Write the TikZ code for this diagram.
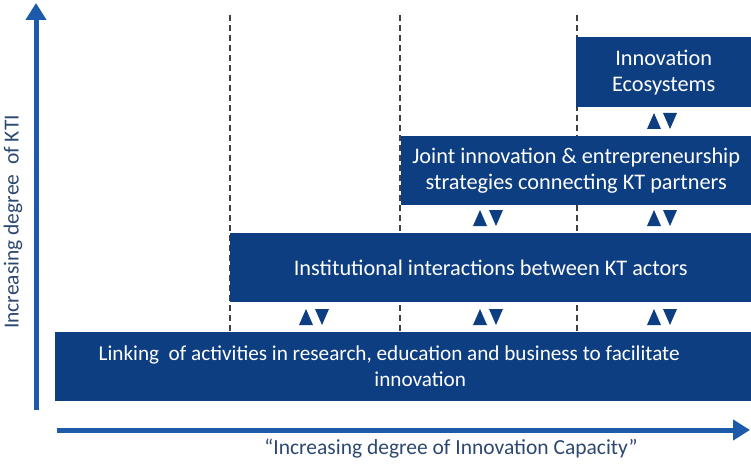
\documentclass[tikz,border=0pt]{standalone}
\usepackage{fontspec}
\setmainfont{Carlito}
\usepackage{xcolor}
\usetikzlibrary{arrows.meta}
\definecolor{ktinavy}{RGB}{14,62,130}
\definecolor{ktiblue}{RGB}{30,90,170}
\definecolor{ktilabel}{RGB}{45,72,112}
\tikzset{%
  tipA/.tip={Triangle[width=20pt,length=17pt]},
  ktibox/.style={fill=ktinavy, text=white, inner sep=0pt, anchor=north west, align=center,
    font=\fontsize{22.3}{26}\selectfont},
  ktiaxis/.style={ktiblue, line width=5pt, -tipA},
  ktigrid/.style={black!75, line width=1.1pt, dash pattern=on 6pt off 4pt},
  ktilab/.style={text=ktilabel, font=\fontsize{21.5}{26}\selectfont},
  updown/.pic={
    \fill[ktinavy] (-15,8) -- (-1,8) -- (-8,-8) -- cycle;
    \fill[ktinavy] (1,-8) -- (15,-8) -- (8,8) -- cycle;
  }
}
\begin{document}
\begin{tikzpicture}[x=1pt,y=-1pt]
\useasboundingbox (0,0) rectangle (751,465);
% stage borders
\foreach \x in {230,400,577} \draw[ktigrid] (\x,15) -- (\x,332);
% levels
\node[ktibox, minimum width=696, minimum height=69, font=\fontsize{21.2}{26}\selectfont] (linking) at (55,332)
  {Linking\ \ of activities in research, education and business to facilitate\hspace*{28pt}\\\hspace*{34pt}innovation};
\node[ktibox, minimum width=521, minimum height=69] (institutional) at (230,233)
  {Institutional interactions between KT actors};
\node[ktibox, minimum width=350, minimum height=69] (joint) at (401,136)
  {Joint innovation \& entrepreneurship\\strategies connecting KT partners};
\node[ktibox, minimum width=175, minimum height=70] (ecosystems) at (576,37)
  {Innovation\\Ecosystems};
% interactions
\foreach \x in {314,488,662} \pic at (\x,317) {updown};
\foreach \x in {488,662} \pic at (\x,218) {updown};
\pic at (662,121) {updown};
% axes
\coordinate (yfoot) at (36,410);
\coordinate (yhead) at (36,3);
\coordinate (xfoot) at (57,430);
\coordinate (xhead) at (750,430);
\draw[ktiaxis] (yfoot) -- (yhead);
\draw[ktiaxis] (xfoot) -- (xhead);
\node[ktilab, rotate=90] (kti) at (13,222) {Increasing degree\ \ of KTI};
\node[ktilab] (capacity) at (451,449) {``Increasing degree of Innovation Capacity''};
\end{tikzpicture}
\end{document}
